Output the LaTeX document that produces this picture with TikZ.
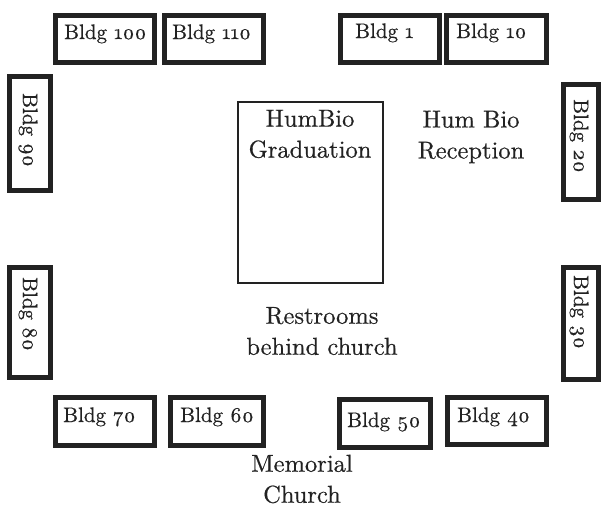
\documentclass[tikz,border=0pt]{standalone}
\usepackage{fontspec}
\setmainfont{lmroman10-regular.otf}[Numbers=OldStyle, FakeBold=0.5]
\definecolor{ink}{HTML}{222222}
\begin{document}
\begin{tikzpicture}[x=1pt,y=-1pt,
  bldg/.style={draw=ink, line width=5pt, inner sep=0pt},
  btext/.style={font=\fontsize{21}{24}\selectfont, inner sep=0pt, text=ink},
  vtext/.style={btext, rotate=-90},
  lbl/.style={font=\fontsize{24.5}{31}\selectfont, align=center, inner sep=0pt, text=ink},
  area/.style={draw=ink, line width=1.5pt, inner sep=0pt}]
\useasboundingbox (0,0) rectangle (603,506);
% top row
\node[bldg, minimum width=99pt, minimum height=47pt] (b100) at (105,39) {};
\node[bldg, minimum width=99pt, minimum height=47pt] (b110) at (214,39) {};
\node[bldg, minimum width=99pt, minimum height=47pt] (b1) at (390,39) {};
\node[bldg, minimum width=100pt, minimum height=47pt] (b10) at (496.5,39) {};
\node[btext, anchor=base west] (t100) at (64,39) {Bldg 100};
\node[btext, anchor=base west] (t110) at (172,39) {Bldg 110};
\node[btext, anchor=base west] (t1) at (355,38) {Bldg 1};
\node[btext, anchor=base west] (t10) at (456,38) {Bldg 10};
% left column
\node[bldg, minimum width=41pt, minimum height=114pt] (b90) at (30,133.5) {};
\node[bldg, minimum width=41pt, minimum height=110pt] (b80) at (30,322.5) {};
\node[vtext] (t90) at (28,130) {Bldg 90};
\node[vtext] (t80) at (28,314) {Bldg 80};
% right column
\node[bldg, minimum width=35pt, minimum height=115pt] (b20) at (581,142) {};
\node[bldg, minimum width=35pt, minimum height=112pt] (b30) at (581,323.5) {};
\node[vtext] (t20) at (579,136) {Bldg 20};
\node[vtext] (t30) at (579,312) {Bldg 30};
% bottom row
\node[bldg, minimum width=99pt, minimum height=48pt] (b70) at (105,421.5) {};
\node[bldg, minimum width=93pt, minimum height=48pt] (b60) at (217,421.5) {};
\node[bldg, minimum width=91pt, minimum height=48pt] (b50) at (385,423.5) {};
\node[bldg, minimum width=99pt, minimum height=47pt] (b40) at (497,421) {};
\node[btext, anchor=base west] (t70) at (63,422) {Bldg 70};
\node[btext, anchor=base west] (t60) at (180,422) {Bldg 60};
\node[btext, anchor=base west] (t50) at (347,427) {Bldg 50};
\node[btext, anchor=base west] (t40) at (457,422) {Bldg 40};
% centre
\node[area, minimum width=145pt, minimum height=181pt] (grad) at (310.5,192.5) {};
\node[lbl] (gradlbl) at (310,134) {HumBio\\Graduation};
\node[lbl] (rec) at (471,137) {Hum Bio\\Reception};
\node[lbl] (rest) at (322,331) {Restrooms\\behind church};
\node[lbl] (church) at (302,479) {Memorial\\Church};
\end{tikzpicture}
\end{document}
